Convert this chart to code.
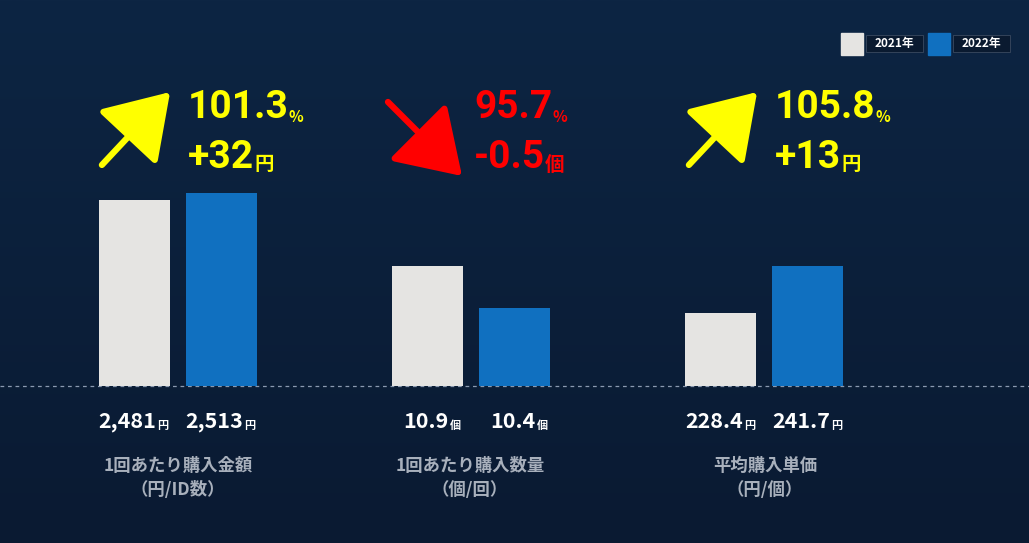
import numpy as np, pandas as pd, seaborn as sns, matplotlib
matplotlib.use("Agg")
import matplotlib.pyplot as plt
from matplotlib.patches import Rectangle, FancyArrowPatch

groups = ["1回あたり購入金額\n（円/ID数）", "1回あたり購入数量\n（個/回）", "平均購入単価\n（円/個）"]
years = ["2021年", "2022年"]
values_2021 = ["2,481", "10.9", "228.4"]
values_2022 = ["2,513", "10.4", "241.7"]
units = ["円", "個", "円"]
# displayed bar heights (infographic scale per group)
bar_h_2021 = [186, 120, 73]
bar_h_2022 = [193, 78, 120]
pct = ["101.3", "95.7", "105.8"]
diff = ["+32", "-0.5", "+13"]
up = [True, False, True]

sns.set_theme(style="white")
plt.rcParams['font.family'] = ['Noto Sans CJK JP', 'DejaVu Sans']
W, H = 1029, 543
fig = plt.figure(figsize=(W/100, H/100), dpi=100)
bg = fig.add_axes([0, 0, 1, 1]); bg.axis("off")
grad = np.linspace(0, 1, 256)[:, None]
cmap = matplotlib.colors.LinearSegmentedColormap.from_list("g", ["#0d2543", "#0a1a32"])
bg.imshow(grad, aspect="auto", cmap=cmap, extent=[0, 1, 0, 1])

def P(x, y): return (x / W, 1 - y / H)

ax = fig.add_axes([31.5/W, (H-386)/H, 879/W, 286/H])
df = pd.DataFrame({"g": groups*2, "year": [years[0]]*3 + [years[1]]*3, "h": bar_h_2021 + bar_h_2022})
sns.barplot(data=df, x="g", y="h", hue="year", palette=["#e5e4e2", "#1070c0"], width=0.594, gap=0.18,
            ax=ax, legend=False, saturation=1, linewidth=0, edgecolor="none")
ax.set_xlim(-0.5, 2.5); ax.set_ylim(0, 286); ax.axis("off")

bg.plot([0, 1], [1-386/H]*2, ls=(0, (3, 3)), color="#8a9ab0", lw=0.9)

centers = [178, 470, 765]
for i, c in enumerate(centers):
    for off, v in [(-43.5, values_2021[i]), (43.5, values_2022[i])]:
        x = c + off + 22
        fig.text(*P(x, 421), v, color="white", fontsize=15.5, fontweight="bold", ha="right", va="center")
        fig.text(*P(x+1, 425), units[i], color="white", fontsize=8, fontweight="bold", ha="left", va="center")
    fig.text(*P(c, 478), groups[i], color="#a8b0bc", fontsize=12.5, fontweight="bold", ha="center", va="center", linespacing=1.5)
    col = "#ffff00" if up[i] else "#ff0000"
    if up[i]:
        a = FancyArrowPatch(P(c-78, 167), P(c-6, 90), transform=fig.transFigure, arrowstyle="-|>,head_length=17,head_width=11",
                            mutation_scale=2.3, color=col, lw=4.5)
        tx = c + 10
    else:
        a = FancyArrowPatch(P(c-84, 100), P(c-6, 178), transform=fig.transFigure, arrowstyle="-|>,head_length=17,head_width=11",
                            mutation_scale=2.3, color=col, lw=4.5)
        tx = c + 4
    fig.add_artist(a)
    t1 = fig.text(*P(tx, 108), pct[i], color=col, fontsize=28, fontweight="bold", ha="left", va="center",
                  family=["Roboto", "DejaVu Sans"])
    fig.canvas.draw()
    bb = t1.get_window_extent()
    fig.text(bb.x1/W, 1-117/H, "%", color=col, fontsize=11, fontweight="bold", ha="left", va="center")
    t2 = fig.text(*P(tx, 158), diff[i], color=col, fontsize=28, fontweight="bold", ha="left", va="center",
                  family=["Roboto", "DejaVu Sans"])
    fig.canvas.draw()
    bb = t2.get_window_extent()
    fig.text(bb.x1/W, 1-165/H, units[i], color=col, fontsize=14, fontweight="bold", ha="left", va="center")

# legend
for x0, col, lab in [(841, "#e5e4e2", years[0]), (928, "#1070c0", years[1])]:
    fig.add_artist(Rectangle(P(x0, 55), 22/W, 22/H, transform=fig.transFigure, color=col))
    fig.add_artist(Rectangle(P(x0+25, 52), 57/W, 17/H, transform=fig.transFigure, fc="#0a1a30", ec="#3a4a60", lw=0.6))
    fig.text(*P(x0+53, 43), lab, color="white", fontsize=8.5, fontweight="bold", ha="center", va="center")

fig.savefig("out.png", dpi=100)
